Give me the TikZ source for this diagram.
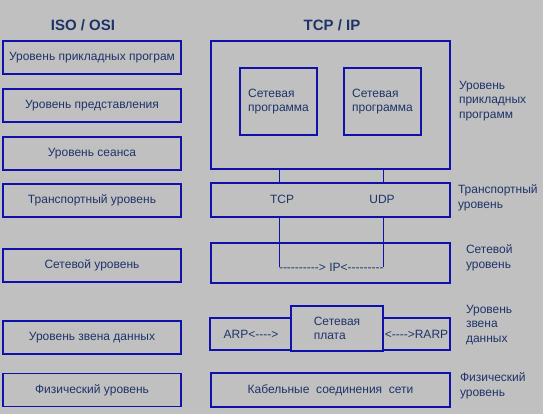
\documentclass[tikz,border=0pt]{standalone}
\usepackage{fontspec}
\setmainfont{Liberation Sans}[Ligatures=TeXOff]
\definecolor{bggray}{RGB}{192,192,192}
\definecolor{boxblue}{RGB}{16,16,170}
\definecolor{txtnavy}{RGB}{30,52,105}
\begin{document}
\begin{tikzpicture}[x=1pt,y=-1pt,
    line width=1.4pt,
    every node/.style={inner sep=0pt,outer sep=0pt,text=txtnavy},
    lab/.style={font=\fontsize{12}{14.5}\selectfont,align=left},
    ttl/.style={font=\fontsize{15}{18}\selectfont\bfseries},
    lvl/.style={draw=boxblue,minimum width=178pt,minimum height=33pt,lab},
    blk/.style={draw=boxblue,minimum width=239pt,lab}]
  \fill[bggray] (0,0) rectangle (543,414);
  \useasboundingbox (0,0) rectangle (543,414);
  % ---- заголовки ----
  \node[ttl] (iso) at (83,25) {ISO / OSI};
  \node[ttl] (tcpip) at (332,25) {TCP / IP};
  % ---- модель ISO / OSI ----
  \node[lvl] (o7) at (92, 57.5) {Уровень прикладных програм};
  \node[lvl] (o6) at (92,105.5) {Уровень представления};
  \node[lvl] (o5) at (92,153.5) {Уровень сеанса};
  \node[lvl] (o4) at (92,200.5) {Транспортный уровень};
  \node[lvl] (o3) at (92,265.5) {Сетевой уровень};
  \node[lvl] (o2) at (92,337.5) {Уровень звена данных};
  \node[lvl] (o1) at (92,390)   {Физический уровень};
  % ---- модель TCP / IP ----
  \node[blk,minimum height=128pt] (app) at (330.5,105) {};
  \node[draw=boxblue,minimum width=77pt,minimum height=67pt,lab] (prg1) at (278.5,101.5) {Сетевая\\программа};
  \node[draw=boxblue,minimum width=77pt,minimum height=67pt,lab] (prg2) at (382.5,101.5) {Сетевая\\программа};
  \node[blk,minimum height=34pt] (trans) at (330.5,200) {};
  \node[lab] (tcp) at (282,199) {TCP};
  \node[lab] (udp) at (382,199) {UDP};
  \node[blk,minimum height=40pt] (net) at (330.5,263) {};
  \node[lab,anchor=west] (ip) at (279,267) {---------{}-> IP<---------};
  \node[draw=boxblue,minimum width=82pt,minimum height=32pt,lab] (arp) at (251,334) {ARP<---{}->};
  \node[draw=boxblue,minimum width=67pt,minimum height=32pt,lab] (rarp) at (416.5,334) {<---{}->RARP};
  \node[draw=boxblue,minimum width=92pt,minimum height=45pt,lab,fill=bggray] (nic) at (337,328.5) {Сетевая\\плата};
  \node[blk,minimum height=34pt] (phys) at (330.5,390) {Кабельные\ \ соединения\ \ сети};
  % ---- связи ----
  \draw[boxblue,line width=1pt] (app.south -| ip.west) -- (trans.north -| ip.west)
                                (app.south -| ip.east) -- (trans.north -| ip.east)
                                (trans.south -| ip.west) -- (ip.west)
                                (trans.south -| ip.east) -- (ip.east);
  % ---- подписи уровней ----
  \node[lab,anchor=north west] (lapp) at (459,81) {Уровень\\прикладных\\программ};
  \node[lab,anchor=north west] (ltrans) at (458,185) {Транспортный\\уровень};
  \node[lab,anchor=north west] (lnet) at (466,245) {Сетевой\\уровень};
  \node[lab,anchor=north west] (llink) at (466,305) {Уровень\\звена\\данных};
  \node[lab,anchor=north west] (lphys) at (460,373) {Физический\\уровень};
\end{tikzpicture}
\end{document}
